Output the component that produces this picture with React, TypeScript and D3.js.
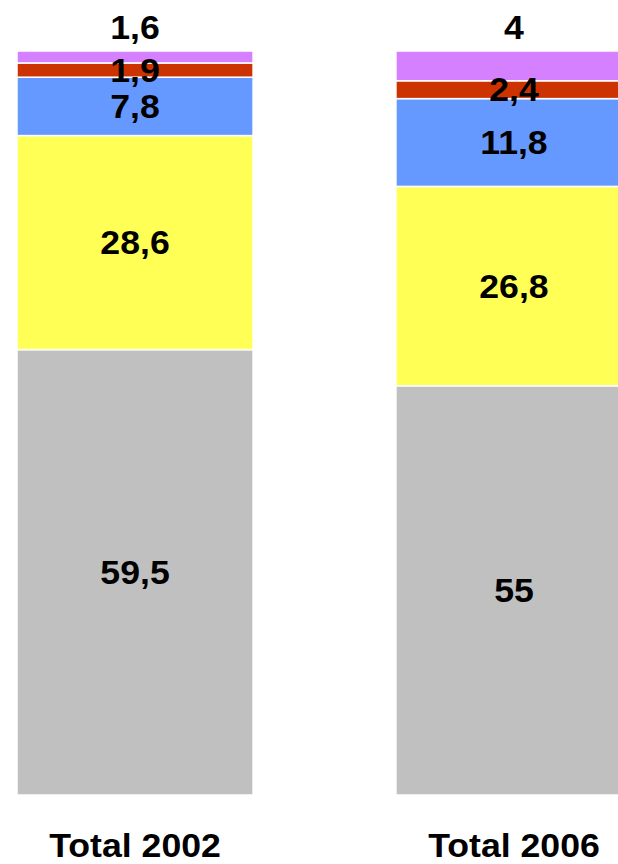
import React from "react";
import * as d3 from "d3";

const categories = ["Total 2002", "Total 2006"];
const seriesNames = ["grey", "yellow", "blue", "red", "purple"];
const grey = [59.5, 55];
const yellow = [28.6, 26.8];
const blue = [7.8, 11.8];
const red = [1.9, 2.4];
const purple = [1.6, 4];

const colors = ["#c0c0c0", "#ffff55", "#6699ff", "#cc3300", "#d580ff"];

const width = 618;
const height = 864;

const App = () => {
  const values = [grey, yellow, blue, red, purple];
  const rows = categories.map((c, i) => {
    const row: any = { category: c };
    seriesNames.forEach((s, j) => (row[s] = values[j][i]));
    return row;
  });

  // 100% stacked, like the original sheet
  const stack = d3.stack().keys(seriesNames).offset(d3.stackOffsetExpand);
  const layers = stack(rows);

  const x = d3.scaleBand().domain(categories).range([17, 632]).paddingInner(0.377).paddingOuter(0);
  const y = d3.scaleLinear().domain([0, 1]).range([795, 51]);
  const color = d3.scaleOrdinal<string>().domain(seriesNames).range(colors);

  const fmt = (v: number) => String(v).replace(".", ",");
  const font = "'Liberation Sans', Arial, sans-serif";
  const fs = 33;
  const stretch = 1.08;

  const label = (key: string, cx: number, baseline: number, txt: string) => (
    <text
      key={key}
      transform={`translate(${cx},${baseline}) scale(${stretch},1)`}
      textAnchor="middle"
      fontFamily={font}
      fontWeight="bold"
      fontSize={fs}
    >
      {txt}
    </text>
  );

  return (
    <svg
      width={width}
      height={height}
      style={{ position: "absolute", left: 0, top: 0, background: "#fff" }}
    >
      {layers.map((layer) => (
        <g key={layer.key} fill={color(layer.key)}>
          {layer.map((d: any, i) => (
            <rect
              key={i}
              x={x(categories[i])}
              y={y(d[1])}
              width={x.bandwidth()}
              height={y(d[0]) - y(d[1])}
              stroke="#fff"
              strokeWidth={1.5}
            />
          ))}
        </g>
      ))}
      {layers.map((layer, li) => (
        <g key={layer.key + "-lbl"}>
          {layer.map((d: any, i) => {
            const top = li === layers.length - 1;
            const cx = (x(categories[i]) as number) + x.bandwidth() / 2;
            const base = top ? y(d[1]) - 12 : (y(d[0]) + y(d[1])) / 2 + 11.8;
            return label(layer.key + i, cx, base, fmt(values[li][i]));
          })}
        </g>
      ))}
      {categories.map((c) =>
        label(c, (x(c) as number) + x.bandwidth() / 2, 857, c)
      )}
    </svg>
  );
};

export default App;
